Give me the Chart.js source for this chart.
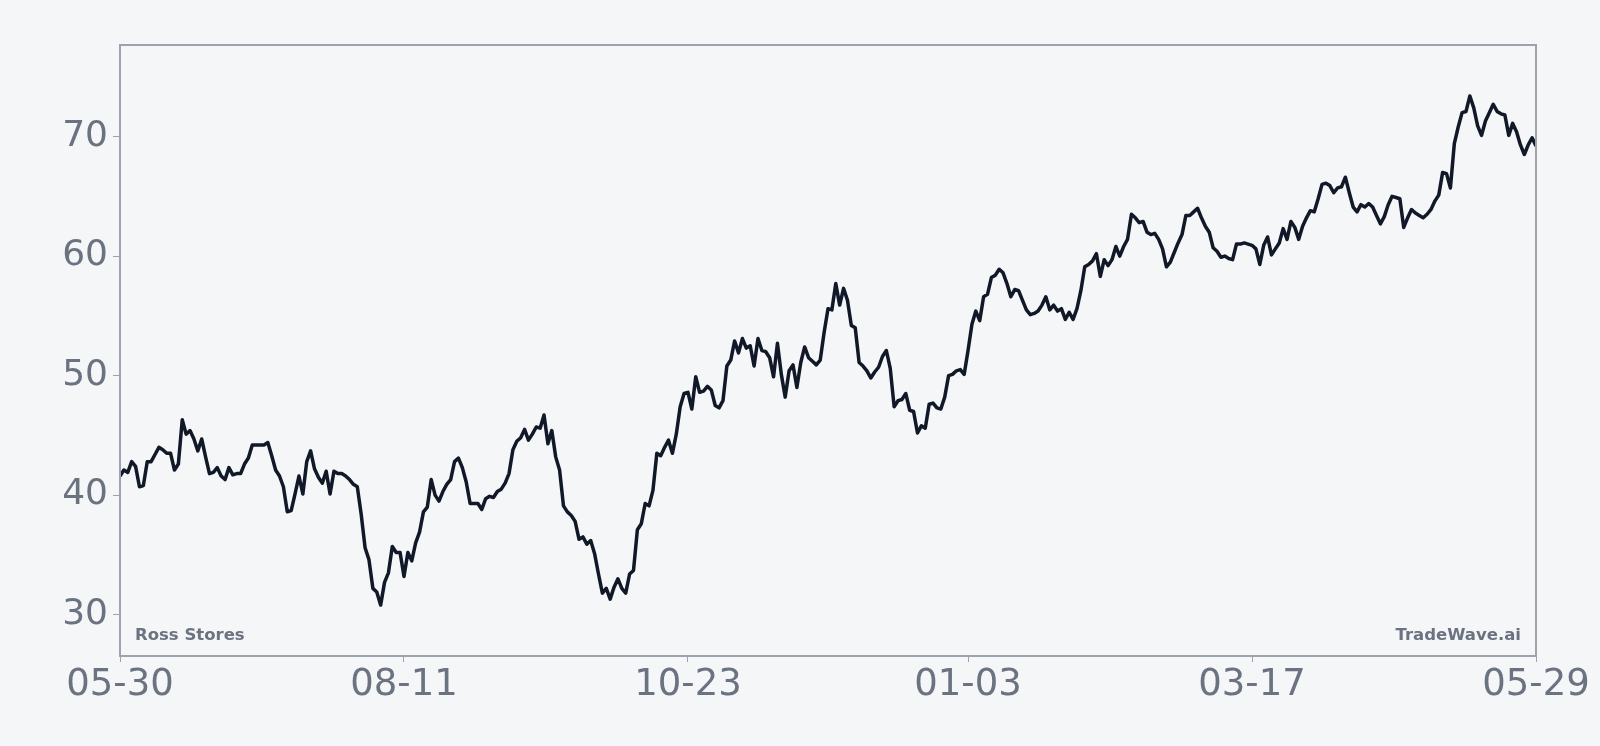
<!DOCTYPE html>
<html>
<head>
<meta charset="utf-8">
<title>Ross Stores</title>
<script src="https://cdn.jsdelivr.net/npm/chart.js@4/dist/chart.umd.min.js"></script>
<style>
  html, body { margin: 0; padding: 0; background: #f4f6f8; }
  #wrap { width: 1600px; height: 746px; }
</style>
</head>
<body>
<div id="wrap"><canvas id="priceChart" width="1600" height="746"></canvas></div>
<script>
const stockName = 'Ross Stores';
const brandName = 'TradeWave.ai';

// daily close, 05-30 .. 05-29
const closePrices = [
  41.6, 42.1, 41.9, 42.8, 42.4, 40.7, 40.8, 42.8, 42.8, 43.4,
  44.0, 43.8, 43.5, 43.5, 42.1, 42.6, 46.3, 45.1, 45.4, 44.7,
  43.7, 44.7, 43.2, 41.8, 41.9, 42.3, 41.6, 41.3, 42.3, 41.7,
  41.8, 41.8, 42.6, 43.1, 44.2, 44.2, 44.2, 44.2, 44.4, 43.3,
  42.1, 41.6, 40.7, 38.6, 38.7, 40.1, 41.6, 40.1, 42.8, 43.7,
  42.2, 41.5, 41.0, 42.0, 40.1, 42.0, 41.8, 41.8, 41.6, 41.3,
  40.9, 40.7, 38.4, 35.6, 34.6, 32.2, 31.9, 30.8, 32.7, 33.5,
  35.7, 35.2, 35.2, 33.2, 35.2, 34.5, 36.0, 36.9, 38.6, 39.0,
  41.3, 40.0, 39.5, 40.3, 40.9, 41.3, 42.8, 43.1, 42.3, 41.1,
  39.3, 39.3, 39.3, 38.8, 39.7, 39.9, 39.8, 40.3, 40.5, 41.0,
  41.8, 43.8, 44.5, 44.8, 45.5, 44.6, 45.1, 45.7, 45.6, 46.7,
  44.3, 45.4, 43.2, 42.1, 39.1, 38.6, 38.3, 37.8, 36.3, 36.5,
  35.9, 36.2, 35.1, 33.4, 31.8, 32.2, 31.3, 32.3, 33.0, 32.2,
  31.8, 33.4, 33.7, 37.1, 37.6, 39.3, 39.1, 40.4, 43.5, 43.3,
  44.0, 44.6, 43.5, 45.1, 47.4, 48.5, 48.6, 47.2, 49.9, 48.6,
  48.7, 49.1, 48.8, 47.5, 47.3, 47.9, 50.8, 51.3, 52.9, 51.9,
  53.1, 52.3, 52.5, 50.8, 53.1, 52.1, 52.0, 51.5, 49.9, 52.7,
  50.1, 48.2, 50.4, 50.9, 49.0, 51.1, 52.4, 51.5, 51.2, 50.9,
  51.3, 53.6, 55.6, 55.5, 57.7, 55.9, 57.3, 56.3, 54.2, 54.0,
  51.1, 50.8, 50.4, 49.8, 50.3, 50.7, 51.6, 52.1, 50.6,
  47.4, 47.9, 48.0, 48.5, 47.1, 47.0, 45.2, 45.8, 45.6, 47.6,
  47.7, 47.3, 47.2, 48.2, 50.0, 50.1, 50.4, 50.5, 50.1, 52.1,
  54.3, 55.4, 54.6, 56.6, 56.8, 58.2, 58.4, 58.9, 58.6, 57.7,
  56.6, 57.2, 57.1, 56.3, 55.5, 55.1, 55.2, 55.4, 55.9, 56.6,
  55.5, 55.9, 55.4, 55.6, 54.7, 55.3, 54.7, 55.6, 57.1, 59.1,
  59.3, 59.6, 60.2, 58.3, 59.7, 59.2, 59.7, 60.8, 60.0, 60.8,
  61.4, 63.5, 63.2, 62.8, 62.9, 62.0, 61.8, 61.9, 61.4, 60.6,
  59.1, 59.5, 60.3, 61.1, 61.8, 63.4, 63.4, 63.7, 64.0, 63.2,
  62.5, 62.0, 60.7, 60.4, 59.9, 60.0, 59.8, 59.7, 61.0, 61.0,
  61.1, 61.0, 60.9, 60.6, 59.3, 60.9, 61.6, 60.1, 60.6, 61.1,
  62.3, 61.4, 62.9, 62.4, 61.4, 62.5, 63.2, 63.8, 63.7, 64.8,
  66.0, 66.1, 65.9, 65.3, 65.7, 65.8, 66.6, 65.3, 64.1, 63.7,
  64.3, 64.1, 64.4, 64.1, 63.4, 62.7, 63.3, 64.3, 65.0, 64.9,
  64.8, 62.4, 63.2, 63.9, 63.6, 63.4, 63.2, 63.5, 63.9, 64.6,
  65.1, 67.0, 66.9, 65.7, 69.4, 70.8, 72.0, 72.1, 73.4, 72.4,
  70.9, 70.1, 71.3, 72.0, 72.7, 72.1, 71.9, 71.8, 70.1, 71.1,
  70.4, 69.3, 68.5, 69.3, 69.9, 69.2
];

const tickIdx = [0, 73, 146, 218, 291, 364];
const tickLabels = ['05-30', '08-11', '10-23', '01-03', '03-17', '05-29'];
const yTicks = [30, 40, 50, 60, 70];

const points = closePrices.map((v, i) => ({ x: i, y: v }));
const lo = Math.min(...closePrices);
const hi = Math.max(...closePrices);
const pad = (hi - lo) * 0.1;

const textGray = '#6b7280';
const frameGray = '#9ca3af';

const framePlugin = {
  id: 'frame',
  afterDraw(chart) {
    const { ctx, chartArea: a } = chart;
    ctx.save();
    ctx.strokeStyle = frameGray;
    ctx.lineWidth = 2;
    ctx.strokeRect(a.left, a.top, a.right - a.left, a.bottom - a.top);
    ctx.fillStyle = textGray;
    ctx.font = 'bold 16.5px "DejaVu Sans"';
    ctx.textBaseline = 'alphabetic';
    ctx.textAlign = 'left';
    ctx.fillText(stockName, a.left + 15, a.bottom - 16);
    ctx.textAlign = 'right';
    ctx.fillText(brandName, a.right - 15, a.bottom - 16);
    ctx.restore();
  }
};

new Chart(document.getElementById('priceChart'), {
  type: 'line',
  data: {
    datasets: [{
      data: points,
      borderColor: '#111827',
      borderWidth: 3.5,
      borderJoinStyle: 'round',
      pointRadius: 0,
      tension: 0,
      fill: false
    }]
  },
  options: {
    responsive: false,
    animation: false,
    devicePixelRatio: 1,
    layout: { padding: { top: 45, right: 64, left: 0, bottom: 0 } },
    plugins: { legend: { display: false }, tooltip: { enabled: false } },
    scales: {
      x: {
        type: 'linear',
        min: 0,
        max: closePrices.length - 1,
        afterBuildTicks: s => { s.ticks = tickIdx.map(v => ({ value: v })); },
        afterFit: s => { s.height = 90; },
        ticks: {
          autoSkip: false,
          maxRotation: 0,
          color: textGray,
          font: { family: 'DejaVu Sans', size: 37 },
          padding: 1,
          callback: v => tickLabels[tickIdx.indexOf(v)]
        },
        grid: { drawOnChartArea: false, drawTicks: true, tickLength: 6, color: frameGray },
        border: { display: false }
      },
      y: {
        min: lo - pad,
        max: hi + pad,
        afterBuildTicks: s => { s.ticks = yTicks.map(v => ({ value: v })); },
        afterFit: s => { s.width = 120; },
        ticks: {
          color: textGray,
          font: { family: 'DejaVu Sans', size: 36 },
          padding: 5
        },
        grid: { drawOnChartArea: false, drawTicks: true, tickLength: 7, color: frameGray },
        border: { display: false }
      }
    }
  },
  plugins: [framePlugin]
});
</script>
</body>
</html>
